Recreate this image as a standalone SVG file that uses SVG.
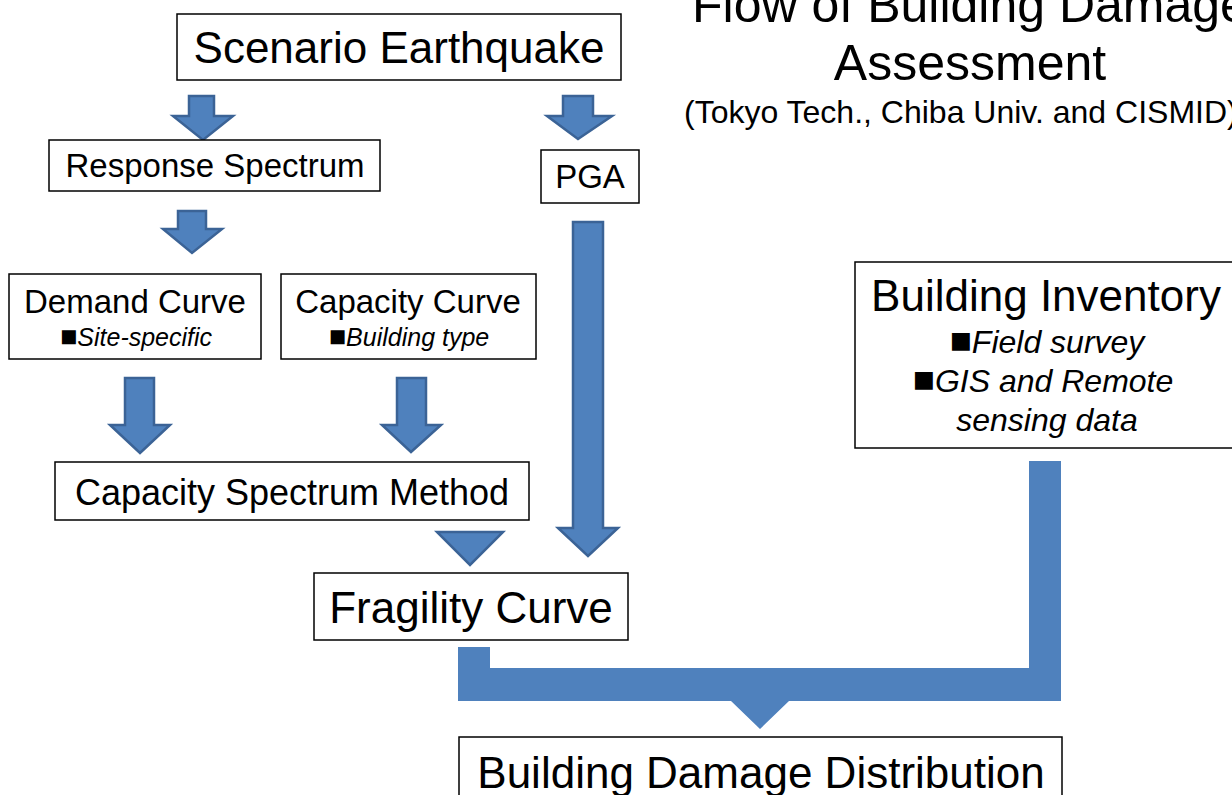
<svg xmlns="http://www.w3.org/2000/svg" width="1232" height="795" viewBox="0 0 1232 795">
  <style>
    .box { fill: #ffffff; stroke: #000000; stroke-width: 1.5; }
    .t { font-family: "Liberation Sans", Arial, sans-serif; fill: #000000; text-anchor: middle; }
    .it { font-style: italic; }
    .bullet { font-size: 1.15em; }
    .arrow { fill: #4f81bd; stroke: #3b6396; stroke-width: 2.5; stroke-linejoin: miter; }
    .flow { fill: #4f81bd; stroke: none; }
  </style>
  <rect x="0" y="0" width="1232" height="795" fill="#ffffff"/>

  <!-- title block, running off the top-right corner -->
  <g id="title">
    <text class="t" x="970" y="22" font-size="50">Flow of Building Damage</text>
    <text class="t" x="970" y="80" font-size="50">Assessment</text>
    <text class="t" x="684" y="123" font-size="32" style="text-anchor:start">(Tokyo Tech., Chiba Univ. and CISMID)</text>
  </g>

  <!-- block arrows -->
  <g id="connectors">
    <polygon class="arrow" points="189,96 214,96 214,116 233,116 203,140 173,116 189,116"/>
    <polygon class="arrow" points="563,96 593,96 593,116 612,116 578,139 547,116 563,116"/>
    <polygon class="arrow" points="178,211 206,211 206,229 222,229 192,253 163,229 178,229"/>
    <polygon class="arrow" points="125,378 154,378 154,425 170,425 140,453 110,425 125,425"/>
    <polygon class="arrow" points="397,378 426,378 426,425 441,425 411,452 382,425 397,425"/>
    <polygon class="arrow" points="573,222 603,222 603,528 618,528 588,556 558,528 573,528"/>
    <polygon class="arrow" points="437,532 503,532 470,565"/>
    <polygon class="flow" points="458,647 490,647 490,668 1029,668 1029,461 1061,461 1061,701 789,701 760,729 731,701 458,701"/>
  </g>

  <g id="scenario-earthquake">
    <rect class="box" x="177" y="14" width="444" height="66"/>
    <text class="t" x="399" y="63" font-size="44">Scenario Earthquake</text>
  </g>

  <g id="response-spectrum">
    <rect class="box" x="49" y="140" width="331" height="51"/>
    <text class="t" x="215" y="177" font-size="33">Response Spectrum</text>
  </g>

  <g id="pga">
    <rect class="box" x="541" y="150" width="98" height="53"/>
    <text class="t" x="590" y="188" font-size="33">PGA</text>
  </g>

  <g id="demand-curve">
    <rect class="box" x="9" y="274" width="252" height="85"/>
    <text class="t" x="135" y="313" font-size="33">Demand Curve</text>
    <text class="t" x="136" y="346" font-size="25"><tspan class="bullet">■</tspan><tspan class="it">Site-specific</tspan></text>
  </g>

  <g id="capacity-curve">
    <rect class="box" x="281" y="274" width="255" height="85"/>
    <text class="t" x="408" y="313" font-size="33">Capacity Curve</text>
    <text class="t" x="409" y="346" font-size="25"><tspan class="bullet">■</tspan><tspan class="it">Building type</tspan></text>
  </g>

  <g id="building-inventory">
    <rect class="box" x="855" y="262" width="390" height="186"/>
    <text class="t" x="1046" y="311" font-size="44">Building Inventory</text>
    <text class="t" x="1047" y="353" font-size="32"><tspan class="bullet">■</tspan><tspan class="it">Field survey</tspan></text>
    <text class="t" x="1043" y="392" font-size="32"><tspan class="bullet">■</tspan><tspan class="it">GIS and Remote</tspan></text>
    <text class="t it" x="1047" y="431" font-size="32">sensing data</text>
  </g>

  <g id="capacity-spectrum-method">
    <rect class="box" x="55" y="462" width="474" height="58"/>
    <text class="t" x="292" y="505" font-size="36">Capacity Spectrum Method</text>
  </g>

  <g id="fragility-curve">
    <rect class="box" x="314" y="573" width="314" height="67"/>
    <text class="t" x="471" y="623" font-size="44">Fragility Curve</text>
  </g>

  <g id="building-damage-distribution">
    <rect class="box" x="459" y="737" width="603" height="70"/>
    <text class="t" x="761" y="788" font-size="44">Building Damage Distribution</text>
  </g>
</svg>
